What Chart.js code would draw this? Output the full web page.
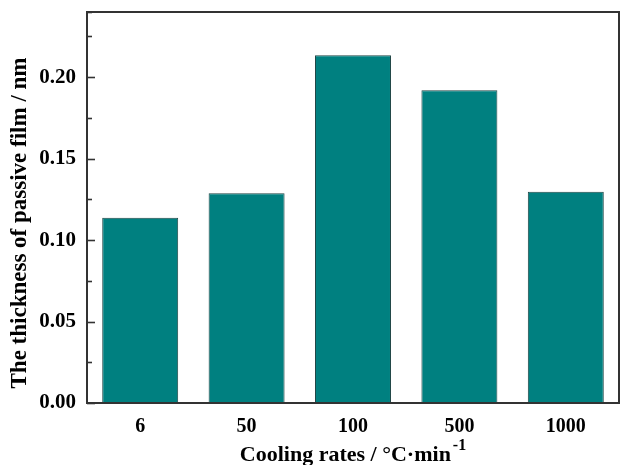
<!DOCTYPE html>
<html>
<head>
<meta charset="utf-8">
<script src="https://cdn.jsdelivr.net/npm/chart.js@4.4.1/dist/chart.umd.min.js"></script>
<style>
  html, body { margin: 0; padding: 0; background: #fff; }
  canvas { display: block; }
</style>
</head>
<body>
<canvas id="chart" width="622" height="465"></canvas>
<script>
const categories = ["6", "50", "100", "500", "1000"];
const thickness = [0.1137, 0.1287, 0.2135, 0.192, 0.1296];
const yMax = 0.24;
const yStep = 0.025;
const xTitle = "Cooling rates / \u00B0C\u00B7min";
const xTitleSup = "-1";
const yTitle = "The thickness of passive film / nm";

const serif = "'Liberation Serif', 'Times New Roman', serif";
const axisColor = "#333";

// frame, inner ticks and axis titles
const framePlugin = {
  id: "frame",
  afterDatasetsDraw(chart) {
    const { ctx, chartArea: a } = chart;
    const y = chart.scales.y;
    ctx.save();
    ctx.strokeStyle = axisColor;
    ctx.lineWidth = 2;
    ctx.strokeRect(a.left, a.top, a.right - a.left, a.bottom - a.top);

    ctx.lineWidth = 1.6;
    y.ticks.forEach(t => {
      const py = Math.round(y.getPixelForValue(t.value)) + 0.5;
      const major = Math.abs(t.value / 0.05 - Math.round(t.value / 0.05)) < 1e-6;
      const len = major ? 8 : 5;
      ctx.beginPath();
      ctx.moveTo(a.left, py);
      ctx.lineTo(a.left + len, py);
      ctx.stroke();
    });
    ctx.restore();
  },
  afterDraw(chart) {
    const { ctx, chartArea: a } = chart;
    ctx.save();
    ctx.fillStyle = "#000";

    // x title with superscript
    ctx.font = "bold 22px " + serif;
    const w1 = ctx.measureText(xTitle).width;
    ctx.font = "bold 16px " + serif;
    const w2 = ctx.measureText(xTitleSup).width;
    const cx = (a.left + a.right) / 2;
    const x0 = cx - (w1 + w2 + 2) / 2;
    ctx.textBaseline = "alphabetic";
    ctx.textAlign = "left";
    ctx.font = "bold 22px " + serif;
    ctx.fillText(xTitle, x0, 461);
    ctx.font = "bold 16px " + serif;
    ctx.fillText(xTitleSup, x0 + w1 + 2, 450);

    // y title
    ctx.translate(20, 223);
    ctx.rotate(-Math.PI / 2);
    ctx.font = "bold 23px " + serif;
    ctx.textAlign = "center";
    ctx.textBaseline = "middle";
    ctx.fillText(yTitle, 0, 0);
    ctx.restore();
  }
};

new Chart(document.getElementById("chart"), {
  type: "bar",
  data: {
    labels: categories,
    datasets: [{
      data: thickness,
      backgroundColor: "#008080",
      borderColor: "#1f4545",
      borderWidth: 1,
      barPercentage: 0.714,
      categoryPercentage: 1
    }]
  },
  options: {
    responsive: false,
    animation: false,
    layout: { padding: { top: 12, right: 3, left: 0, bottom: 0 } },
    plugins: {
      legend: { display: false },
      tooltip: { enabled: false }
    },
    scales: {
      x: {
        grid: { display: false },
        border: { display: false },
        ticks: {
          color: "#000",
          padding: 4,
          maxRotation: 0,
          font: { family: serif, size: 20, weight: "bold" }
        },
        afterFit(scale) {
          scale.height = 62;
          scale.paddingLeft = 0;
          scale.paddingRight = 0;
        }
      },
      y: {
        min: 0,
        max: yMax,
        grid: { display: false },
        border: { display: false },
        ticks: {
          stepSize: yStep,
          color: "#000",
          padding: 3,
          font: { family: serif, size: 21, weight: "bold" },
          callback(v) {
            const r = v / 0.05;
            if (Math.abs(r - Math.round(r)) < 1e-6 && v <= 0.2 + 1e-9) return v.toFixed(2);
            return "";
          }
        },
        afterFit(scale) {
          scale.width = 87;
          scale.paddingTop = 0;
          scale.paddingBottom = 0;
        }
      }
    }
  },
  plugins: [framePlugin]
});
</script>
</body>
</html>
